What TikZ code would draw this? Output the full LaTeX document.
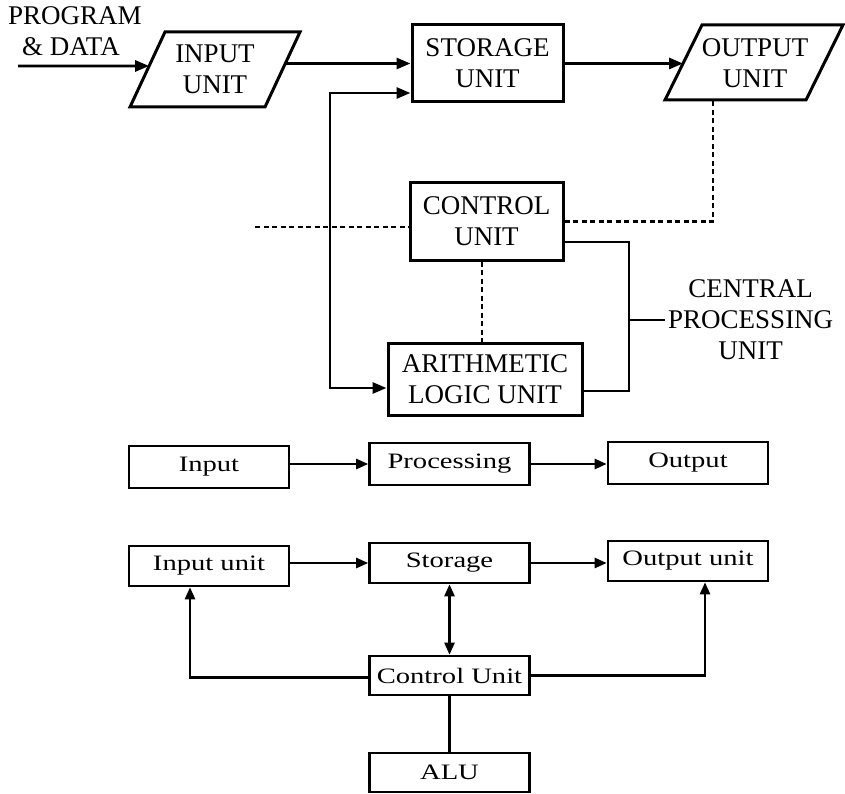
\documentclass[tikz,border=0pt]{standalone}
\usepackage{fontspec}
\setmainfont{Liberation Serif}
\newfontfamily\widefont[FakeStretch=1.3]{Liberation Serif}
\usetikzlibrary{arrows.meta,calc}

\tikzset{
  bigtext/.style={font=\fontsize{27}{31}\selectfont, align=center},
  smalltext/.style={font=\widefont\fontsize{22}{24}\selectfont},
  topbox/.style={draw, line width=3pt, bigtext, inner sep=0pt},
  paraline/.style={line width=3pt, line join=miter},
  lowbox/.style={draw, line width=2.6pt, smalltext, inner sep=0pt,
    minimum width=160pt, minimum height=40pt},
  bigtip/.tip={Triangle[length=14pt,width=11pt]},
  smalltip/.tip={Triangle[length=12pt,width=10pt]},
  toparrow/.style={line width=2.8pt, -bigtip},
  toplink/.style={line width=2.8pt},
  dotline/.style={line width=2.8pt, dash pattern=on 5pt off 3.5pt},
  lowarrow/.style={line width=2.4pt, -smalltip},
  lowlink/.style={line width=2.4pt},
}

\begin{document}
\begin{tikzpicture}[x=1pt,y=-1pt]
\useasboundingbox (0,0) rectangle (845,794);

% ---------- upper block diagram ----------
\node[anchor=north west, bigtext, inner sep=0pt, align=left] (pdtext) at (8,6)
  {PROGRAM\\[0pt]\hspace*{14pt}\& DATA};

% input unit (parallelogram)
\coordinate (i-bl) at (130,107);
\coordinate (i-tl) at (165,32);
\coordinate (i-tr) at (300,32);
\coordinate (i-br) at (265,107);
\draw[paraline] (i-bl) -- (i-tl) -- (i-tr) -- (i-br) -- cycle;
\node[bigtext, inner sep=0pt] (input) at (215,69.5) {INPUT\\UNIT};

\node[topbox, minimum width=151pt, minimum height=77pt] (storage) at (487.5,63.5) {STORAGE\\UNIT};

% output unit (parallelogram)
\coordinate (o-bl) at (665,100);
\coordinate (o-tl) at (702,25);
\coordinate (o-tr) at (843,25);
\coordinate (o-br) at (806,100);
\draw[paraline] (o-bl) -- (o-tl) -- (o-tr) -- (o-br) -- cycle;
\node[bigtext, inner sep=0pt] (output) at (755,63) {OUTPUT\\UNIT};

\node[topbox, minimum width=153pt, minimum height=77pt] (control) at (486.5,221.5) {CONTROL\\UNIT};
\node[topbox, minimum width=194pt, minimum height=72pt] (alu) at (485,379) {ARITHMETIC\\LOGIC UNIT};
\node[anchor=west, bigtext, inner sep=0pt] (cpu) at (668,320)
  {CENTRAL\\PROCESSING\\UNIT};

\coordinate (src) at (18,66);
\coordinate (i-in) at ($(i-bl)!0.547!(i-tl)$);
\coordinate (i-out) at ($(i-br)!0.58!(i-tr)$);
\coordinate (o-in) at ($(o-bl)!0.487!(o-tl)$);
\coordinate (loop) at (330,240);
\coordinate (dl) at (255,227);
\coordinate (dr) at (713,221.5);
\coordinate (br) at (629,300);
\coordinate (dv) at (482,300);

\draw[toparrow] (src) -- (i-in);
\draw[toparrow] (i-out) -- (i-out -| storage.west);
\draw[toparrow] (storage.east) -- (o-in);
\draw[toplink, bigtip-bigtip]
  ([yshift=-29.5pt]storage.west) -| (loop) |- ([yshift=-9pt]alu.west);
\draw[dotline] (dl) -- (dl -| control.west);
\draw[dotline] (control.east) -- (dr) -- (dr |- o-bl);
\draw[dotline] (dv |- control.south) -- (dv |- alu.north);
\draw[toplink] ([yshift=-20.5pt]control.east) -| (br) |- ([yshift=-12pt]alu.east);
\draw[toplink] (br |- cpu.west) -- ([xshift=-3pt]cpu.west);

% ---------- input / processing / output ----------
\node[lowbox, minimum height=42pt] (in1) at (209,467) {Input};
\node[lowbox, minimum height=42pt] (proc) at (449.5,464) {Processing};
\node[lowbox, minimum height=42pt] (out1) at (688,463) {Output};
\draw[lowarrow] (in1.east |- proc.west) -- (proc.west);
\draw[lowarrow] (proc.east) -- (proc.east -| out1.west);

% ---------- units around the control unit ----------
\node[lowbox] (iu) at (209,566) {Input unit};
\node[lowbox] (st) at (449.5,563) {Storage};
\node[lowbox] (ou) at (688,561) {Output unit};
\node[lowbox, minimum height=39pt] (cu) at (449.5,675.5) {Control Unit};
\node[lowbox, minimum height=39pt] (alu2) at (449.5,772.5) {ALU};

\draw[lowarrow] (iu.east |- st.west) -- (st.west);
\draw[lowarrow] (st.east) -- (st.east -| ou.west);
\draw[lowlink, smalltip-smalltip] (st.south) -- (cu.north);
\draw[lowlink] (cu.south) -- (alu2.north);
\draw[lowarrow] ([yshift=-2pt]cu.west) -| ([xshift=-19pt]iu.south);
\draw[lowarrow] (cu.east) -| ([xshift=17pt]ou.south);
\end{tikzpicture}
\end{document}
